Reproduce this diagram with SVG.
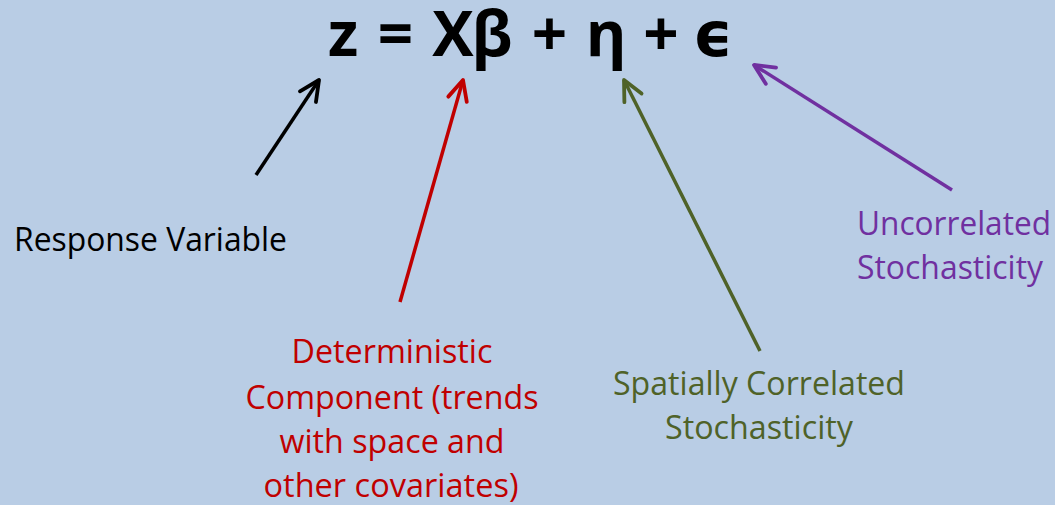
<svg xmlns="http://www.w3.org/2000/svg" width="1055" height="505" viewBox="0 0 1055 505">
<style>
.lbl{font-family:"Open Sans","Liberation Sans",sans-serif;font-size:32px}
.eq{font-family:"Open Sans","DejaVu Sans",sans-serif;font-size:62px;font-weight:bold;fill:#000;text-anchor:middle}
.ln{fill:none;stroke-width:3.5}
</style>
<defs>
<marker id="hk" viewBox="-24 -13 28 26" markerWidth="28" markerHeight="26" refX="0" refY="0" orient="auto" markerUnits="userSpaceOnUse"><path d="M-20,-9.6 L0,0 L-20,9.6" fill="none" stroke="#000" stroke-width="3.8" stroke-linecap="round" stroke-linejoin="round"/></marker>
<marker id="hr" viewBox="-24 -13 28 26" markerWidth="28" markerHeight="26" refX="0" refY="0" orient="auto" markerUnits="userSpaceOnUse"><path d="M-20,-9.6 L0,0 L-20,9.6" fill="none" stroke="#C00000" stroke-width="3.8" stroke-linecap="round" stroke-linejoin="round"/></marker>
<marker id="hg" viewBox="-24 -13 28 26" markerWidth="28" markerHeight="26" refX="0" refY="0" orient="auto" markerUnits="userSpaceOnUse"><path d="M-20,-9.6 L0,0 L-20,9.6" fill="none" stroke="#4F6228" stroke-width="3.8" stroke-linecap="round" stroke-linejoin="round"/></marker>
<marker id="hp" viewBox="-24 -13 28 26" markerWidth="28" markerHeight="26" refX="0" refY="0" orient="auto" markerUnits="userSpaceOnUse"><path d="M-20,-9.6 L0,0 L-20,9.6" fill="none" stroke="#7030A0" stroke-width="3.8" stroke-linecap="round" stroke-linejoin="round"/></marker>
</defs>
<rect width="1055" height="505" fill="#B9CDE5"/>
<g id="equation">
<text class="eq" y="56"><tspan x="343">z</tspan><tspan x="395.5">=</tspan><tspan x="453">X</tspan><tspan x="492">β</tspan><tspan x="549.5">+</tspan><tspan x="606">η</tspan><tspan x="661">+</tspan><tspan x="713">ϵ</tspan></text>
</g>
<g id="connectors">
<line class="ln" x1="256" y1="175" x2="319" y2="80" stroke="#000" marker-end="url(#hk)"/>
<line class="ln" x1="400" y1="302" x2="463" y2="80" stroke="#C00000" marker-end="url(#hr)"/>
<line class="ln" x1="760" y1="351" x2="624" y2="80" stroke="#4F6228" marker-end="url(#hg)"/>
<line class="ln" x1="952" y1="190" x2="754" y2="65" stroke="#7030A0" marker-end="url(#hp)"/>
</g>
<g id="response">
<text class="lbl" x="14" y="251" fill="#000" textLength="273" lengthAdjust="spacingAndGlyphs">Response Variable</text>
</g>
<g id="deterministic" fill="#C00000" text-anchor="middle">
<text class="lbl" x="392" y="363" textLength="201" lengthAdjust="spacingAndGlyphs">Deterministic</text>
<text class="lbl" x="392" y="409" textLength="293" lengthAdjust="spacingAndGlyphs">Component (trends</text>
<text class="lbl" x="392" y="453" textLength="225" lengthAdjust="spacingAndGlyphs">with space and</text>
<text class="lbl" x="391" y="497" textLength="255" lengthAdjust="spacingAndGlyphs">other covariates)</text>
</g>
<g id="spatial" fill="#4F6228" text-anchor="middle">
<text class="lbl" x="759" y="395" textLength="292" lengthAdjust="spacingAndGlyphs">Spatially Correlated</text>
<text class="lbl" x="759" y="439" textLength="188" lengthAdjust="spacingAndGlyphs">Stochasticity</text>
</g>
<g id="uncorrelated" fill="#7030A0">
<text class="lbl" x="857" y="235" textLength="194" lengthAdjust="spacingAndGlyphs">Uncorrelated</text>
<text class="lbl" x="857" y="279" textLength="186" lengthAdjust="spacingAndGlyphs">Stochasticity</text>
</g>
</svg>
